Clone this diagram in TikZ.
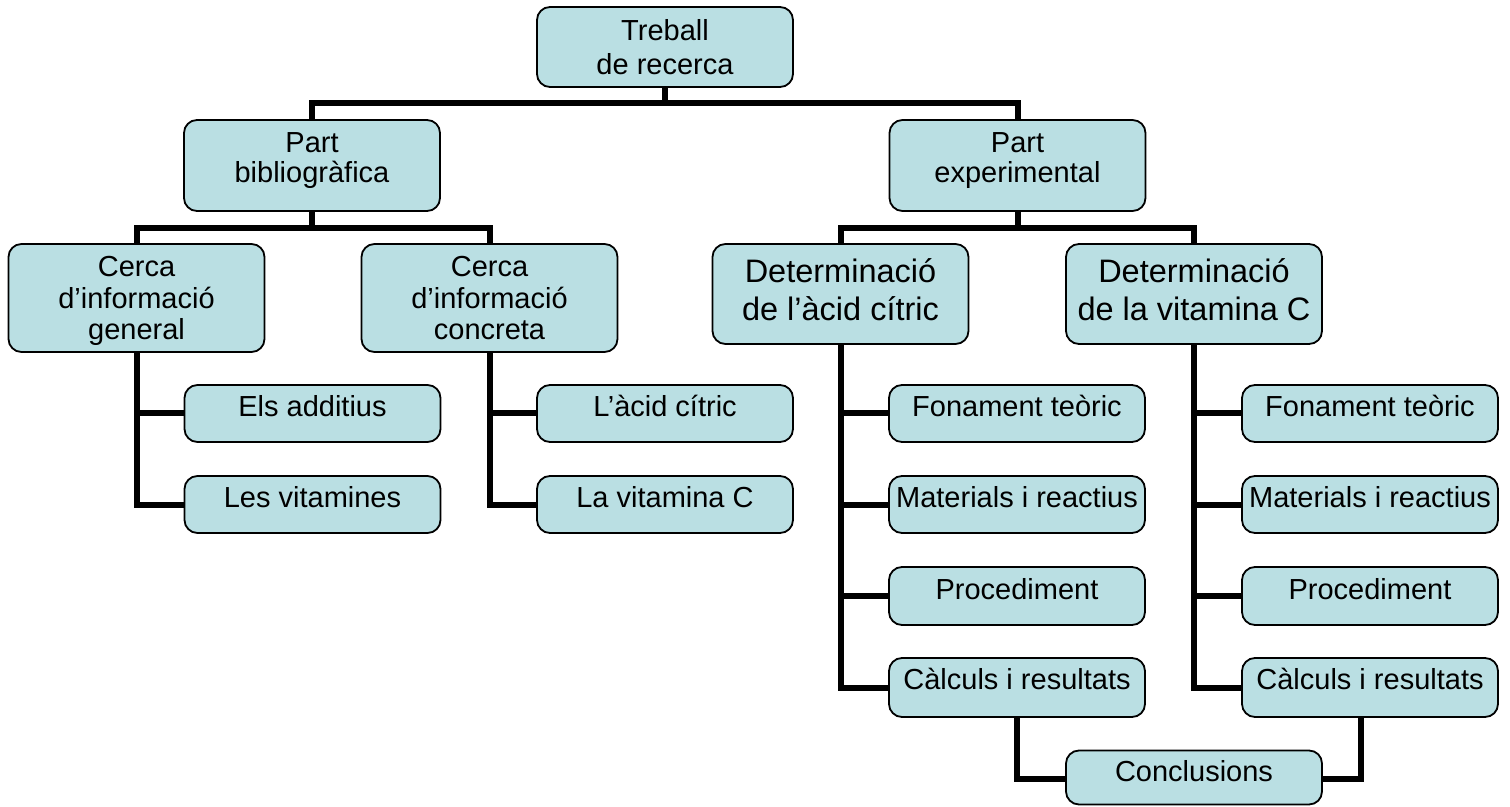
\documentclass[tikz,border=0pt]{standalone}
\usepackage{fontspec}
\setmainfont{Liberation Sans}
\definecolor{boxfill}{RGB}{186,223,227}
\pgfdeclarelayer{bg}
\pgfsetlayers{bg,main}
\tikzset{
 box/.style={draw=black, line width=0.9pt, fill=boxfill, rounded corners=6.5pt, minimum width=128pt, inner sep=0pt},
 txt/.style={inner sep=0pt, align=center, font=\fontsize{14.5pt}{16pt}\selectfont},
 bigtxt/.style={inner sep=0pt, align=center, font=\fontsize{16.25pt}{19pt}\selectfont},
 conn/.style={line width=3pt, line join=miter, draw=black},
}
\begin{document}
\begin{tikzpicture}[x=0.5pt,y=-0.5pt]
\useasboundingbox (0,0) rectangle (1510,807);
\coordinate (bus1) at (0,103);
\coordinate (bus2) at (0,228);
% boxes
\node[box, minimum height=40pt] (tr) at (665,47) {};
\node[box, minimum height=45.5pt] (pb) at (312,165.5) {};
\node[box, minimum height=45.5pt] (pe) at (1017.5,165.5) {};
\node[box, minimum height=54pt] (cg) at (136.5,298) {};
\node[box, minimum height=54pt] (cc) at (489.5,298) {};
\node[box, minimum height=50pt] (da) at (840.5,294) {};
\node[box, minimum height=50pt] (dv) at (1194,294) {};
\node[box, minimum height=28.5pt] (ea) at (312.5,413.5) {};
\node[box, minimum height=28.5pt] (lv) at (312.5,504.5) {};
\node[box, minimum height=28.5pt] (ac) at (665,413.5) {};
\node[box, minimum height=28.5pt] (vc) at (665,504.5) {};
\node[box, minimum height=28.5pt] (f1) at (1017,413.5) {};
\node[box, minimum height=28.5pt] (m1) at (1017,504.5) {};
\node[box, minimum height=29pt] (p1) at (1017,596) {};
\node[box, minimum height=29.5pt] (c1) at (1017,687.5) {};
\node[box, minimum height=28.5pt] (f2) at (1370,413.5) {};
\node[box, minimum height=28.5pt] (m2) at (1370,504.5) {};
\node[box, minimum height=29pt] (p2) at (1370,596) {};
\node[box, minimum height=29.5pt] (c2) at (1370,687.5) {};
\node[box, minimum height=27pt] (conc) at (1194,777.5) {};
% texts
\node[txt, anchor=north, font=\fontsize{14.5pt}{17pt}\selectfont] (trt) at (665,19) {Treball\\de recerca};
\node[txt, anchor=north, font=\fontsize{14.5pt}{15pt}\selectfont] (pbt) at (312,132) {Part\\bibliogràfica};
\node[txt, anchor=north, font=\fontsize{14.5pt}{15pt}\selectfont] (pet) at (1017.5,132) {Part\\experimental};
\node[txt, anchor=north, font=\fontsize{14.5pt}{15.75pt}\selectfont] (cgt) at (136.5,256) {Cerca\\d’informació\\general};
\node[txt, anchor=north, font=\fontsize{14.5pt}{15.75pt}\selectfont] (cct) at (489.5,256) {Cerca\\d’informació\\concreta};
\node[bigtxt, anchor=north] (dat) at (840.5,258) {Determinació\\de l’àcid cítric};
\node[bigtxt, anchor=north] (dvt) at (1194,258) {Determinació\\de la vitamina C};
\node[txt, anchor=base] (eat) at (312.5,417) {Els additius};
\node[txt, anchor=base] (lvt) at (312.5,508) {Les vitamines};
\node[txt, anchor=base] (act) at (665,417) {L’àcid cítric};
\node[txt, anchor=base] (vct) at (665,508) {La vitamina C};
\node[txt, anchor=base] (f1t) at (1017,417) {Fonament teòric};
\node[txt, anchor=base] (m1t) at (1017,508) {Materials i reactius};
\node[txt, anchor=base] (p1t) at (1017,599) {Procediment};
\node[txt, anchor=base] (c1t) at (1017,689) {Càlculs i resultats};
\node[txt, anchor=base] (f2t) at (1370,417) {Fonament teòric};
\node[txt, anchor=base] (m2t) at (1370,508) {Materials i reactius};
\node[txt, anchor=base] (p2t) at (1370,599) {Procediment};
\node[txt, anchor=base] (c2t) at (1370,689) {Càlculs i resultats};
\node[txt, anchor=base] (conct) at (1194,781) {Conclusions};
% connectors
\begin{pgfonlayer}{bg}
\draw[conn] (tr.south) -- (tr.south |- bus1);
\draw[conn] (pb.north) -- (pb.north |- bus1) -- (pe.north |- bus1) -- (pe.north);
\draw[conn] (pb.south) -- (pb.south |- bus2);
\draw[conn] (cg.north) -- (cg.north |- bus2) -- (cc.north |- bus2) -- (cc.north);
\draw[conn] (pe.south) -- (pe.south |- bus2);
\draw[conn] (da.north) -- (da.north |- bus2) -- (dv.north |- bus2) -- (dv.north);
\draw[conn] (cg.south) |- (lv.west);
\draw[conn] (cg.south |- ea.west) -- (ea.west);
\draw[conn] (cc.south) |- (vc.west);
\draw[conn] (cc.south |- ac.west) -- (ac.west);
\draw[conn] (da.south) |- (c1.west);
\draw[conn] (da.south |- f1.west) -- (f1.west);
\draw[conn] (da.south |- m1.west) -- (m1.west);
\draw[conn] (da.south |- p1.west) -- (p1.west);
\draw[conn] (dv.south) |- (c2.west);
\draw[conn] (dv.south |- f2.west) -- (f2.west);
\draw[conn] (dv.south |- m2.west) -- (m2.west);
\draw[conn] (dv.south |- p2.west) -- (p2.west);
\draw[conn] (c1.south) |- ([yshift=-0.75pt]conc.west);
\draw[conn] ([xshift=-4.5pt]c2.south) |- ([yshift=-0.75pt]conc.east);
\end{pgfonlayer}
\end{tikzpicture}
\end{document}
